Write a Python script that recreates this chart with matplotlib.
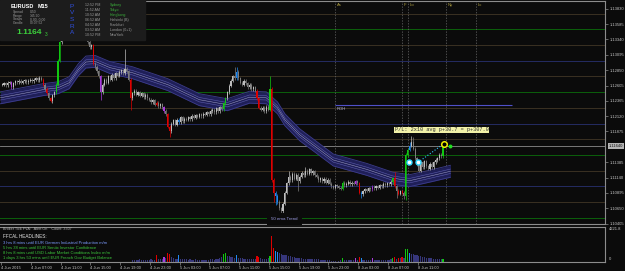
import matplotlib
matplotlib.use('Agg')
import matplotlib.pyplot as plt
from matplotlib.patches import Rectangle
import numpy as np

plt.rcParams['font.family'] = ['Liberation Sans', 'DejaVu Sans']

# ---- data (EURUSD M15) ----
closes = [
    1.1262, 1.1264, 1.1261, 1.1265, 1.1266, 1.1258, 1.1264, 1.1267,
    1.1266, 1.1268, 1.1265, 1.1267, 1.1269, 1.1266, 1.1268, 1.1270,
    1.1267, 1.1270, 1.1272, 1.1269, 1.1273, 1.1270,
    1.1262, 1.1255, 1.1248, 1.1240, 1.1236, 1.1245,
    1.1250, 1.1262, 1.1300, 1.1330,
    1.1342, 1.1345, 1.1340, 1.1350, 1.1355, 1.1352, 1.1360, 1.1356, 1.1358, 1.1350, 1.1354, 1.1347, 1.1343,
    1.1335, 1.1330, 1.1322,
    1.1325, 1.1295, 1.1290,
    1.1283, 1.1275,
    1.1250,
    1.1262, 1.1270, 1.1265, 1.1275, 1.1270, 1.1278, 1.1272, 1.1280, 1.1276,
    1.1282, 1.1285, 1.1280, 1.1287, 1.1283,
    1.1270, 1.1240,
    1.1248, 1.1252, 1.1246, 1.1250, 1.1244, 1.1248, 1.1242, 1.1246, 1.1240,
    1.1238, 1.1234, 1.1237, 1.1230, 1.1233, 1.1228, 1.1231, 1.1226, 1.1220,
    1.1215, 1.1195, 1.1188, 1.1200,
    1.1205, 1.1198, 1.1206, 1.1202, 1.1210, 1.1204, 1.1208,
    1.1206, 1.1210, 1.1207, 1.1212, 1.1209, 1.1213, 1.1211, 1.1215, 1.1212, 1.1216, 1.1214, 1.1218, 1.1215, 1.1220,
    1.1222, 1.1218, 1.1224, 1.1220, 1.1226, 1.1223,
    1.1232, 1.1240, 1.1250,
    1.1260, 1.1268, 1.1275, 1.1272, 1.1282,
    1.1272, 1.1265, 1.1262, 1.1268, 1.1264, 1.1258, 1.1262, 1.1255, 1.1258, 1.1252,
    1.1240, 1.1225, 1.1222,
    1.1225, 1.1220, 1.1227, 1.1222,
    1.1255,
    1.1110,
    1.1090, 1.1085,
    1.1075, 1.1065, 1.1060, 1.1072,
    1.1090, 1.1105, 1.1115, 1.1110,
    1.1120, 1.1112, 1.1118, 1.1108, 1.1115,
    1.1122, 1.1118, 1.1125, 1.1120, 1.1127, 1.1121, 1.1124, 1.1118,
    1.1115, 1.1110, 1.1113, 1.1108, 1.1112, 1.1106, 1.1110, 1.1104,
    1.1100, 1.1098, 1.1102,
    1.1100, 1.1098, 1.1096, 1.1106, 1.1102,
    1.1104, 1.1107, 1.1103, 1.1106, 1.1104, 1.1108, 1.1105,
    1.1090, 1.1087,
    1.1092, 1.1095, 1.1093, 1.1097, 1.1095, 1.1099, 1.1097, 1.1100, 1.1098, 1.1102, 1.1100, 1.1104, 1.1102,
    1.1105, 1.1103, 1.1107, 1.1113,
    1.1100, 1.1093, 1.1088, 1.1092, 1.1090, 1.1085,
    1.1150, 1.1158, 1.1165, 1.1170, 1.1160, 1.1145,
    1.1135, 1.1125, 1.1138, 1.1130, 1.1140,
    1.1132, 1.1128, 1.1136, 1.1130, 1.1138, 1.1142,
    1.1145, 1.1150, 1.1148,
    1.1164,
]
highs = {36: 1.1362, 38: 1.1368, 45: 1.1345, 46: 1.1340, 66: 1.1318, 125: 1.1290,
         126: 1.1290, 144: 1.1275, 154: 1.1125, 163: 1.1130, 211: 1.1123,
         219: 1.1170, 220: 1.1180, 221: 1.1178}
lows = {26: 1.1234, 53: 1.1238, 69: 1.1222, 90: 1.1178, 146: 1.1075, 147: 1.1070,
        150: 1.1053, 159: 1.1093, 193: 1.1082, 212: 1.1082, 216: 1.1080, 217: 1.1078}
# PVSRA colouring of climax / above-average bars
pvsra = {5: 'm', 22: 'r', 24: 'r', 26: 'r', 29: 'g', 30: 'g', 31: 'g', 49: 'r', 53: 'm',
         69: 'r', 83: 'r', 87: 'm', 89: 'r', 90: 'r', 95: 'b', 119: 'g', 120: 'g', 126: 'b',
         137: 'r', 138: 'r', 144: 'g', 145: 'r', 146: 'r', 147: 'b', 148: 'b', 183: 'g',
         190: 'm', 192: 'r', 193: 'b', 199: 'm', 210: 'g', 211: 'r', 213: 'r', 215: 'r',
         217: 'g', 218: 'g', 219: 'b', 237: 'g'}

vol_start = 70
volumes = [
    280, 250, 300, 260, 320, 240, 270, 290, 310, 260, 330, 280, 300, 900, 340, 420,
    380, 650, 500, 1100, 1050, 600, 450, 400, 380, 950, 350, 420, 380, 340, 300, 320,
    300, 280, 320, 290, 310, 270, 300, 280, 260, 300, 320, 340, 300, 380, 420, 500,
    650, 1000, 1150, 800, 700, 650, 600, 550, 950, 500, 480, 450, 400, 420, 380, 350,
    340, 360, 380, 700, 650, 450, 400, 380, 420, 500, 700, 3250, 1800, 1400, 1300, 1100,
    1000, 950, 900, 850, 750, 700, 650, 600, 560, 520, 480, 450, 430, 400, 420, 380,
    360, 340, 380, 330, 320, 300, 280, 260, 240, 220, 200, 150, 120, 80, 60, 100,
    200, 450, 250, 220, 240, 260, 230, 300, 500, 280, 650, 550, 300, 280, 260, 240,
    240, 520, 260, 240, 230, 250, 220, 240, 260, 280, 300, 320, 500, 600, 350, 550,
    450, 600, 500, 1650, 1600, 1150, 1000, 1050, 900, 850, 800, 700, 650, 600, 550, 500,
    480, 450, 420, 400, 380, 360, 350, 420,
]
vol_max_label = '4221.8'

# 50 ema trend ribbon (centre line)
band_bars = [-1, 22, 30, 36, 41, 45, 50, 58, 70, 89, 106, 121, 133, 142, 148, 152, 160,
             178, 196, 210, 219, 231, 241]
band_mid = [1.1241, 1.1254, 1.1257, 1.1265, 1.1286, 1.1298, 1.1299, 1.1289, 1.1281,
            1.1262, 1.1238, 1.1230, 1.1242, 1.1241, 1.1225, 1.1206, 1.1182,
            1.1142, 1.1127, 1.1113, 1.1109, 1.1117, 1.1124]

levels_blue = [1.1300, 1.1200, 1.1100]
levels_green = [1.1350, 1.1250, 1.1150, 1.1050]
levels_brown = [1.1375, 1.1325, 1.1275, 1.1225, 1.1175, 1.1125, 1.1075]

price_ticks = [1.13830, 1.13585, 1.13340, 1.13095, 1.12850, 1.12605, 1.12365, 1.12120,
               1.11875, 1.11385, 1.11140, 1.10895, 1.10650, 1.10405]
current_price = 1.1164

time_labels = ['4 Jun 2015', '4 Jun 07:00', '4 Jun 11:00', '4 Jun 15:00', '4 Jun 19:00',
               '4 Jun 23:00', '5 Jun 03:00', '5 Jun 07:00', '5 Jun 11:00', '5 Jun 15:00',
               '5 Jun 19:00', '5 Jun 23:00', '8 Jun 03:00', '8 Jun 07:00', '8 Jun 11:00']
bars_per_label = 16

sessions = ['As', 'F', 'Lo', 'Ny', 'Lc']
session_bars = [179, 214.7, 218.2, 238.4, 254.5]

roh_price, roh_from, roh_to = 1.1229, 179, 274
entry_bars = [218.7, 223.5]
entry_price = 1.1138
exit_bar, exit_price = 237.5, 1.1168
tp_bar, tp_price = 240.8, 1.1165
pl_text = 'P/L: 2x10 avg p+30.7 = p+307.0'
pl_bar, pl_price = 211, 1.1190
ema_label_bar, ema_label_price = 144.5, 1.1048

clock_times = ['12:52 PM', '11:52 AM', '10:52 AM', '06:52 AM', '04:52 AM', '03:52 AM', '10:52 PM']
clock_cities = ['Sydney', 'Tokyo', 'Hongkong', 'Helsinki (B)', 'Frankfurt', 'London (0+1)', 'NewYork']
cities_open = [True, True, True, False, False, False, False]
info_rows = [('Spread', '0.50'), ('Range', '145.90'), ('Swaps', '0.00, 0.00'), ('Candle', '00:07:52')]

headlines = ['3 hrs 8 mins until EUR German Industrial Production m/m',
             '5 hrs 38 mins until EUR Sentix Investor Confidence',
             '8 hrs 8 mins until USD Labor Market Conditions Index m/m',
             '1 days 3 hrs 53 mins until EUR French Gov Budget Balance']
headline_colors = ['#7c9cff', '#3cc83c', '#3cc83c', '#3cc83c']

# ---- styling ----
BG = '#0b0b0b'
GRID = '#8c8c8c'
TXT = '#c4c4c4'
pv_colors = {'r': '#dd0000', 'g': '#10c810', 'b': '#2088f0', 'm': '#a83cdc'}
up_col, dn_col, vol_col = '#bdbdbd', '#7c7c7c', '#36367a'
wick = 0.00025
W, H = 625, 271

fig = plt.figure(figsize=(W / 100, H / 100), dpi=100, facecolor=BG)
ax = fig.add_axes([0, (H - 224) / H, 605 / W, 223 / H], facecolor=BG)
axv = fig.add_axes([0, (H - 262) / H, 605 / W, 35 / H], facecolor=BG)

def ftext(x, y, s, **kw):
    kw.setdefault('va', 'center')
    kw.setdefault('zorder', 7)
    fig.text(x / W, 1 - y / H, s, **kw)

# level lines
for lv in levels_brown:
    ax.axhline(lv, color='#3a3122', lw=0.7, zorder=1)
for lv in levels_green:
    ax.axhline(lv, color='#0c600c', lw=0.7, zorder=1)
for lv in levels_blue:
    ax.axhline(lv, color='#242c62', lw=0.7, zorder=1)
ax.axhline(current_price, color='#8c8c8c', lw=0.6, zorder=1)

for b, s in zip(session_bars, sessions):
    ax.axvline(b, color='#666666', lw=0.5, ls=(0, (2, 2)), zorder=1)
    ax.annotate(s, xy=(b, 1), xycoords=('data', 'axes fraction'), xytext=(1.2, -1.2),
                textcoords='offset points', va='top', ha='left', color='#b0a040', fontsize=3)

# ema ribbon
bb = np.array(band_bars)
bm = np.array(band_mid)
ax.fill_between(bb, bm - 0.00095, bm + 0.00095, color='#1f1f58', lw=0, zorder=2)
for off, c, lw in [(0.00095, '#3c3c8c', 0.6), (-0.00095, '#3c3c8c', 0.6),
                   (0.00035, '#5c5cac', 0.4), (-0.00035, '#5c5cac', 0.4), (0, '#a4a4cc', 0.35)]:
    ax.plot(bb, bm + off, color=c, lw=lw, zorder=2)

# candles
opens = [closes[0]] + closes[:-1]
for i, (o, c) in enumerate(zip(opens, closes)):
    col = pv_colors[pvsra[i]] if i in pvsra else (up_col if c >= o else dn_col)
    hi = highs.get(i, max(o, c) + wick)
    lo = lows.get(i, min(o, c) - wick)
    ax.vlines(i, lo, hi, color=col, lw=0.5, zorder=3)
    ax.bar(i, max(abs(c - o), 0.00006), bottom=min(o, c), width=0.6, color=col, lw=0, zorder=3)

# ROH line
ax.hlines(roh_price, roh_from, roh_to, color='#5050c8', lw=0.8, zorder=2)
ax.annotate('ROH', xy=(roh_from, roh_price), xytext=(1, -1.2), textcoords='offset points',
            va='top', ha='left', color='#b8b8e0', fontsize=3)

ax.text(ema_label_bar, ema_label_price, '50 ema Trend', color='#9a9ae0', fontsize=3.2,
        ha='left', va='center', zorder=4, bbox=dict(fc=BG, ec='none', pad=3))

# trades
ax.plot([entry_bars[1], exit_bar], [entry_price, exit_price], ls=':', color='#30c8ff', lw=0.8, zorder=4)
ax.plot(entry_bars, [entry_price] * len(entry_bars), 'o', ms=3.6, mfc='white', mec='#30d8ff', mew=1.0, zorder=5)
ax.plot(exit_bar, exit_price, 'o', ms=4, mfc='black', mec='#f0f000', mew=1.1, zorder=5)
ax.plot(tp_bar, tp_price, 'o', ms=1.8, color='#20e020', zorder=5)
ax.text(pl_bar, pl_price, pl_text, family='Liberation Mono', fontsize=3.8, color='#303030',
        va='center', ha='left', zorder=6, bbox=dict(fc='#f2f2a8', ec='none', pad=0.5))

# axes
xmin, xmax = -1.18, 324.1
ax.set_xlim(xmin, xmax)
ax.set_ylim(1.1040, 1.13952)
ax.set_xticks([])
ax.yaxis.tick_right()
ax.set_yticks(price_ticks)
ax.set_yticklabels(['%.5f' % p for p in price_ticks])
ax.tick_params(axis='y', colors=GRID, labelcolor=TXT, labelsize=3, length=2, width=0.5, pad=1.5)
ax.spines['left'].set_visible(False)
for side in ['top', 'right', 'bottom']:
    ax.spines[side].set_color(GRID)
    ax.spines[side].set_linewidth(0.8)
ax.annotate('%.5f' % current_price, xy=(1, current_price), xycoords=('axes fraction', 'data'),
            xytext=(2.6, 0), textcoords='offset points', va='center', ha='left', fontsize=3,
            color='#101010', bbox=dict(fc='#b4b4b4', ec='none', pad=0.6), annotation_clip=False)

# volume panel
vbars = np.arange(vol_start, vol_start + len(volumes))
vcols = [pv_colors[pvsra[i]] if i in pvsra else vol_col for i in vbars]
axv.bar(vbars, volumes, width=0.65, color=vcols, lw=0)
axv.set_xlim(xmin, xmax)
axv.set_ylim(0, 4450)
axv.set_yticks([])
tick_pos = np.arange(len(time_labels)) * bars_per_label - 0.6
axv.set_xticks(tick_pos)
axv.set_xticklabels(time_labels, ha='left')
axv.tick_params(axis='x', colors=GRID, labelcolor=TXT, labelsize=2.9, length=2, width=0.5, pad=1)
axv.spines['left'].set_visible(False)
for side in ['top', 'right', 'bottom']:
    axv.spines[side].set_color(GRID)
    axv.spines[side].set_linewidth(0.8)
ftext(609, 229, vol_max_label, color=TXT, fontsize=3)
ftext(609, 259, '0', color=TXT, fontsize=3)

ftext(3, 229.5, 'Broker Tick PVA:   Alert On    Count: 3307', color='#b0b0b0', fontsize=2.7)
ftext(3, 237, 'FFCAL HEADLINES:', color='#e8e8e8', fontsize=3.3)
for k, (h, c) in enumerate(zip(headlines, headline_colors)):
    ftext(3, 243 + 5 * k, h, color=c, fontsize=3)

# info panel
fig.add_artist(Rectangle((0, 1 - 40 / H), 145 / W, 40 / H, transform=fig.transFigure,
                         color='#1c1c1c', zorder=5))
ftext(11, 6, 'EURUSD', color='white', fontsize=4.0, fontweight='bold')
ftext(38, 6, 'M15', color='white', fontsize=4.0, fontweight='bold')
for k, (lab, val) in enumerate(info_rows):
    ftext(13, 12.3 + 3.4 * k, lab, color='#9a9a9a', fontsize=2.4)
    ftext(30, 12.3 + 3.4 * k, val, color='#9a9a9a', fontsize=2.4)
ftext(16, 33, '%.4f' % current_price, color='#3cd03c', fontsize=6, fontweight='bold')
ftext(45, 34, '3', color='#3cd03c', fontsize=3.5)
for k, ch in enumerate('PVSRA'):
    ftext(72, 6.5 + 6.5 * k, ch, color='#3050e0', fontsize=4.6, ha='center')
for k, (t, city, op) in enumerate(zip(clock_times, clock_cities, cities_open)):
    ftext(85, 5.3 + 4.95 * k, t, color='#9a9a9a', fontsize=2.6)
    ftext(110, 5.3 + 4.95 * k, city, color='#3cb43c' if op else '#9a9a9a', fontsize=2.6)

fig.savefig('out.png', dpi=100, facecolor=BG)
